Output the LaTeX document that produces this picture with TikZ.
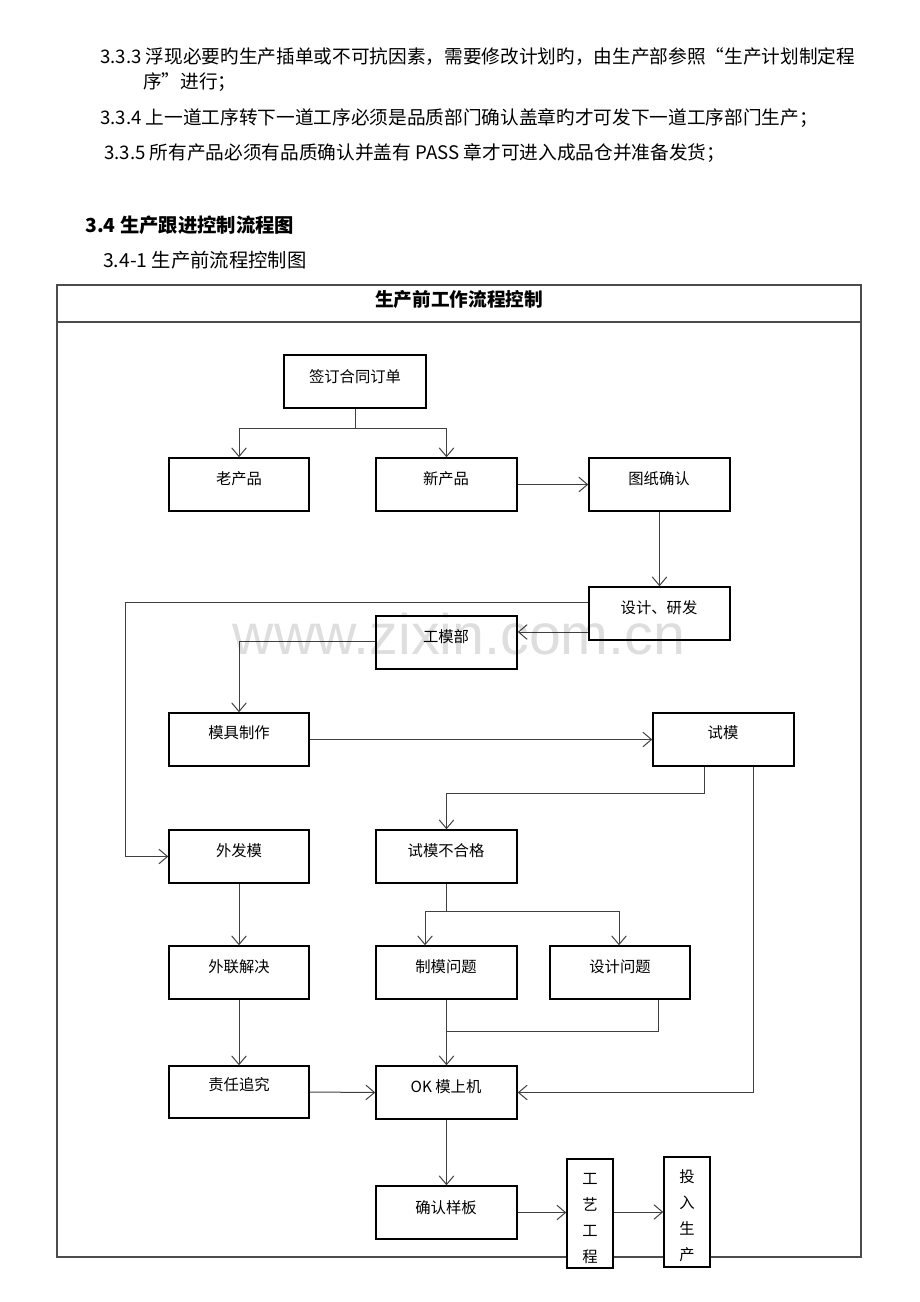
\documentclass[tikz,border=0pt]{standalone}
\usepackage{fontspec}
\setmainfont{Noto Sans CJK SC}
\newfontfamily\wmfont{Liberation Sans}
\usetikzlibrary{arrows.meta,fit}
\begin{document}
\begin{tikzpicture}[x=0.75pt,y=-0.75pt,
  bx/.style={draw=black,line width=1.1pt,fill=white,inner sep=0pt},
  lbl/.style={inner sep=0pt,font=\fontsize{11.5}{14}\selectfont},
  vlbl/.style={inner sep=0pt,align=center,font=\fontsize{11.5}{19.5}\selectfont},
  ln/.style={draw=black!75,line width=0.75pt},
  arr/.style={ln,-{Straight Barb[length=6.5pt,width=11pt,line width=0.75pt]}},
  ptext/.style={anchor=west,inner sep=0pt,font=\fontsize{14}{17}\selectfont}]
\useasboundingbox (0,0) rectangle (920,1302);
% top texts
\node[ptext] (p1) at (100,57) {3.3.3 浮现必要旳生产插单或不可抗因素，需要修改计划旳，由生产部参照“生产计划制定程};
\node[ptext] (p1b) at (143,82) {序”进行；};
\node[ptext] (p2) at (100,118) {3.3.4 上一道工序转下一道工序必须是品质部门确认盖章旳才可发下一道工序部门生产；};
\node[ptext] (p3) at (104,153) {3.3.5 所有产品必须有品质确认并盖有 PASS 章才可进入成品仓并准备发货；};
\node[ptext,font=\fontsize{14.5}{17}\selectfont\bfseries] (h1) at (85,225) {3.4 生产跟进控制流程图};
\node[ptext,font=\fontsize{14.5}{17}\selectfont] (h2) at (103,260) {3.4-1 生产前流程控制图};
% frame
\draw[draw=black!70,line width=0.9pt] (57,285) rectangle (861,1257);
\draw[draw=black!70,line width=0.9pt] (57,322) -- (861,322);
\node[inner sep=0pt,font=\fontsize{14}{16}\selectfont\bfseries] (title) at (459,299) {生产前工作流程控制};
% boxes
\node[bx,fit={(284,355) (426,408)}] (qd) {};
\node[bx,fit={(169,458) (309,511)}] (lao) {};
\node[bx,fit={(376,458) (517,511)}] (xin) {};
\node[bx,fit={(589,458) (730,511)}] (tz) {};
\node[bx,fit={(589,587) (730,640)}] (sj) {};
\node[bx,fit={(376,616) (517,669)}] (gm) {};
\node[bx,fit={(169,713) (309,766)}] (mj) {};
\node[bx,fit={(653,713) (794,766)}] (sm) {};
\node[bx,fit={(169,830) (309,883)}] (wf) {};
\node[bx,fit={(376,830) (517,883)}] (bhg) {};
\node[bx,fit={(169,946) (309,999)}] (wl) {};
\node[bx,fit={(376,946) (517,999)}] (zm) {};
\node[bx,fit={(550,946) (690,999)}] (sjwt) {};
\node[bx,fit={(169,1066) (309,1118)}] (zr) {};
\node[bx,fit={(376,1066) (517,1119)}] (ok) {};
\node[bx,fit={(376,1186) (517,1239)}] (qr) {};
\node[bx,fit={(567,1159) (613,1268)}] (gy) {};
\node[bx,fit={(664,1157) (710,1267)}] (tr) {};
% labels
\node[lbl] (qd-t) at (355,377) {签订合同订单};
\node[lbl] (lao-t) at (239,479) {老产品};
\node[lbl] (xin-t) at (446,479) {新产品};
\node[lbl] (tz-t) at (659,479) {图纸确认};
\node[lbl] (sj-t) at (659,608) {设计、研发};
\node[lbl] (gm-t) at (446,637) {工模部};
\node[lbl] (mj-t) at (239,733) {模具制作};
\node[lbl] (sm-t) at (723,733) {试模};
\node[lbl] (wf-t) at (239,851) {外发模};
\node[lbl] (bhg-t) at (446,851) {试模不合格};
\node[lbl] (wl-t) at (239,967) {外联解决};
\node[lbl] (zm-t) at (446,967) {制模问题};
\node[lbl] (sjwt-t) at (620,967) {设计问题};
\node[lbl] (zr-t) at (239,1085) {责任追究};
\node[lbl] (ok-t) at (446,1087) {OK 模上机};
\node[lbl] (qr-t) at (446,1208) {确认样板};
\node[vlbl] (gy-t) at (590,1219) {工\\艺\\工\\程};
\node[vlbl] (tr-t) at (687,1216) {投\\入\\生\\产};
% connectors
\draw[ln] (qd.south) -- (qd.south |- 0,428) coordinate (j1);
\draw[arr] (j1) -| (lao.north);
\draw[arr] (j1) -| (xin.north);
\draw[arr] (xin.east) -- (tz.west);
\draw[arr] (tz.south) -- (sj.north);
\draw[arr] (sj.west |- 0,602) -- (125,602) |- (wf.west);
\draw[arr] (sj.west |- 0,632) -- (gm.east |- 0,632);
\draw[arr] (gm.west |- 0,641) -| (mj.north);
\draw[arr] (mj.east) -- (sm.west);
\draw[arr] (sm.south -| 704,0) -- (704,793) -| (bhg.north);
\draw[arr] (sm.south -| 753,0) |- (ok.east);
\draw[arr] (wf.south) -- (wl.north);
\draw[ln] (bhg.south) -- (bhg.south |- 0,911) coordinate (j2);
\draw[arr] (j2) -| (zm.north -| 425,0);
\draw[arr] (j2) -| (sjwt.north -| 619,0);
\draw[arr] (zm.south) -- (ok.north);
\coordinate (j3) at (446,1031);
\draw[ln] (sjwt.south -| 658,0) |- (j3);
\draw[arr] (wl.south) -- (zr.north);
\draw[arr] (zr.east) -- (ok.west);
\draw[arr] (ok.south) -- (qr.north);
\draw[arr] (qr.east) -- (gy.west |- qr.east);
\draw[arr] (gy.east |- 0,1212) -- (tr.west |- 0,1212);
% watermark
\node[inner sep=0pt,text=black,text opacity=0.13,font=\fontsize{43}{45}\wmfont] (wm) at (459,634) {www.zixin.com.cn};
\end{tikzpicture}
\end{document}
